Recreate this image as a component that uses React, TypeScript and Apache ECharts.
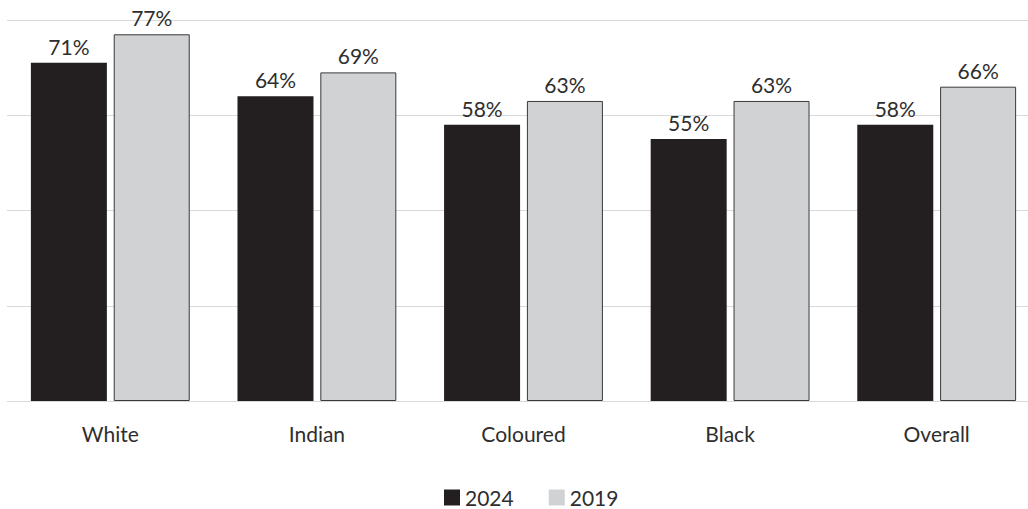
import React, { useEffect, useRef } from "react";
import * as echarts from "echarts";

const categories = ["White", "Indian", "Coloured", "Black", "Overall"];
const values2024 = [71, 64, 58, 55, 58];
const values2019 = [77, 69, 63, 63, 66];
const seriesNames = ["2024", "2019"];

export default function App() {
  const ref = useRef<HTMLDivElement>(null);
  useEffect(() => {
    if (!ref.current) return;
    const chart = echarts.init(ref.current, null, { renderer: "svg" });
    const font = "Lato, 'Open Sans', sans-serif";
    const labelStyle = {
      show: true,
      position: "top" as const,
      distance: 6,
      formatter: "{c}%",
      color: "#2e2e2e",
      fontSize: 21,
      fontFamily: font,
    };
    chart.setOption({
      animation: false,
      grid: [
        { left: 7, top: 20, width: 1033, height: 381, outerBoundsMode: "none", containLabel: false },
        { left: 7, top: 20, right: 0, height: 381, outerBoundsMode: "none", containLabel: false },
      ],
      legend: {
        data: [
          { name: seriesNames[0], itemStyle: { color: "#231f20", borderWidth: 0 } },
          { name: seriesNames[1], itemStyle: { color: "#d1d2d4", borderWidth: 0 } },
        ],
        top: 487,
        left: 444,
        padding: 0,
        itemWidth: 16,
        itemHeight: 16,
        itemGap: 35,
        icon: "rect",
        textStyle: { fontSize: 21, lineHeight: 20, color: "#2e2e2e", fontFamily: font },
      },
      xAxis: [
        {
          type: "category",
          gridIndex: 0,
          data: categories,
          axisLine: { show: false },
          axisTick: { show: false },
          axisLabel: { fontSize: 21, color: "#2e2e2e", fontFamily: font, margin: 22 },
        },
        {
          type: "value",
          gridIndex: 1,
          show: false,
        },
      ],
      yAxis: [
        {
          type: "value",
          gridIndex: 0,
          min: 0,
          max: 80,
          interval: 20,
          axisLabel: { show: false },
          axisLine: { show: false },
          axisTick: { show: false },
          splitLine: { show: false },
        },
        {
          type: "value",
          gridIndex: 1,
          min: 0,
          max: 80,
          interval: 20,
          axisLabel: { show: false },
          axisLine: { show: false },
          axisTick: { show: false },
          splitLine: { show: true, lineStyle: { color: "#d9d9d9", width: 1 } },
        },
      ],
      series: [
        {
          name: seriesNames[0],
          type: "bar",
          xAxisIndex: 0,
          yAxisIndex: 0,
          data: values2024,
          barWidth: 76,
          barGap: "9%",
          itemStyle: { color: "#231f20" },
          label: labelStyle,
          z: 3,
        },
        {
          name: seriesNames[1],
          type: "bar",
          xAxisIndex: 0,
          yAxisIndex: 0,
          data: values2019,
          barWidth: 76,
          barGap: "9%",
          itemStyle: { color: "#d1d2d4", borderColor: "#3a3a3a", borderWidth: 1 },
          label: labelStyle,
          z: 3,
        },
      ],
    });
    return () => chart.dispose();
  }, []);
  return (
    <div
      ref={ref}
      style={{ position: "absolute", left: 0, top: 0, width: 1028, height: 509, background: "#ffffff" }}
    />
  );
}
